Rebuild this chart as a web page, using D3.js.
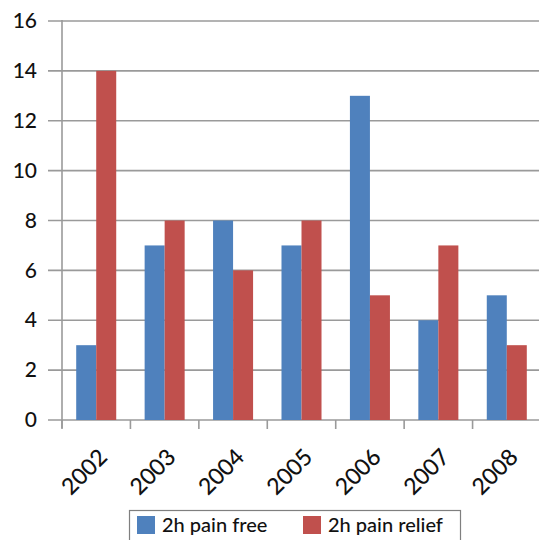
<!DOCTYPE html>
<html>
<head>
<meta charset="utf-8">
<script src="https://cdn.jsdelivr.net/npm/d3@7"></script>
<style>
  html, body { margin: 0; padding: 0; background: #fff; }
  svg { display: block; font-family: Lato, "Open Sans", sans-serif; }
</style>
</head>
<body>
<svg id="chart" width="539" height="540"></svg>
<script>
// Yearly counts per outcome measure
const years = ["2002", "2003", "2004", "2005", "2006", "2007", "2008"];
const painFree = [3, 7, 8, 7, 13, 4, 5];
const painRelief = [14, 8, 6, 8, 5, 7, 3];
const seriesNames = ["2h pain free", "2h pain relief"];
const seriesColors = ["#4F81BD", "#C0504D"];
const yTicks = [0, 2, 4, 6, 8, 10, 12, 14, 16];

const svg = d3.select("#chart");
const plotLeft = 62, plotRight = 541, plotTop = 21, plotBottom = 420;

const x = d3.scaleBand().domain(years).range([plotLeft, plotRight]).paddingInner(0).paddingOuter(0);
const inner = d3.scaleBand().domain([0, 1]).range([0, x.bandwidth()]).paddingInner(0).paddingOuter(0.71);
const y = d3.scaleLinear().domain([0, 16]).range([plotBottom, plotTop]);

const gridColor = "#9a9a9a";
const textColor = "#111";

// horizontal gridlines
svg.append("g")
  .selectAll("line")
  .data(yTicks)
  .join("line")
  .attr("x1", plotLeft - 14).attr("x2", 539)
  .attr("y1", d => y(d)).attr("y2", d => y(d))
  .attr("stroke", gridColor).attr("stroke-width", 1.6);

// bars
const rows = years.map((yr, i) => ({ year: yr, values: [painFree[i], painRelief[i]] }));
const groups = svg.append("g").selectAll("g")
  .data(rows)
  .join("g")
  .attr("transform", d => `translate(${x(d.year)},0)`);
groups.selectAll("rect")
  .data(d => d.values.map((v, k) => ({ v, k })))
  .join("rect")
  .attr("x", d => inner(d.k))
  .attr("width", inner.bandwidth())
  .attr("y", d => y(d.v))
  .attr("height", d => y(0) - y(d.v))
  .attr("fill", d => seriesColors[d.k]);

// y axis
const yAxis = svg.append("g")
  .attr("transform", `translate(${plotLeft},0)`)
  .call(d3.axisLeft(y).tickValues(yTicks).tickSize(0).tickPadding(25).tickFormat(d3.format("d")));
yAxis.select(".domain").attr("stroke", gridColor).attr("stroke-width", 1.6)
  .attr("d", `M0,${plotTop - 1}V${plotBottom + 8}`);
yAxis.selectAll("text").attr("font-size", 21).attr("fill", textColor)
  .attr("font-family", "Lato, sans-serif").attr("font-weight", 500);

// x axis tick marks at band boundaries
svg.append("g").selectAll("line")
  .data(d3.range(years.length + 1))
  .join("line")
  .attr("x1", i => plotLeft + i * x.bandwidth())
  .attr("x2", i => plotLeft + i * x.bandwidth())
  .attr("y1", plotBottom).attr("y2", plotBottom + 9)
  .attr("stroke", gridColor).attr("stroke-width", 1.6);

svg.append("g").selectAll("text")
  .data(years)
  .join("text")
  .attr("transform", d => `translate(${x(d) + x.bandwidth() / 2 + 1},${plotBottom + 27}) rotate(-45)`)
  .attr("text-anchor", "end")
  .attr("dy", "0.71em")
  .attr("font-size", 23)
  .attr("font-weight", 500)
  .attr("fill", textColor)
  .text(d => d);

// legend
const legend = svg.append("g");
legend.append("rect")
  .attr("x", 129.5).attr("y", 510.5).attr("width", 331).attr("height", 40)
  .attr("fill", "#fff").attr("stroke", "#7f7f7f").attr("stroke-width", 1.2);
const legendX = [137, 303];
const items = legend.selectAll("g.item")
  .data(seriesNames)
  .join("g")
  .attr("class", "item")
  .attr("transform", (d, i) => `translate(${legendX[i]},516)`);
items.append("rect")
  .attr("width", 18).attr("height", 18)
  .attr("fill", (d, i) => seriesColors[i]);
items.append("text")
  .attr("x", 25).attr("y", 16)
  .attr("font-size", 20)
  .attr("font-weight", 500)
  .attr("fill", textColor)
  .text(d => d);
</script>
</body>
</html>
